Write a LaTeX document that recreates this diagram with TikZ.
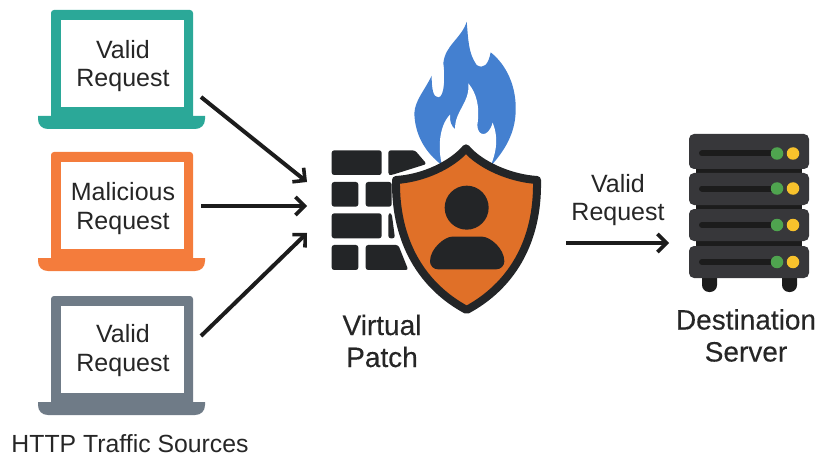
\documentclass[tikz,border=0pt]{standalone}
\usepackage{fontspec}
\setmainfont{Liberation Sans}
\newfontfamily\medfont[FakeBold=0.25]{Liberation Sans}
\usetikzlibrary{arrows.meta}
\definecolor{tealc}{HTML}{2BA898}
\definecolor{orangec}{HTML}{F47C3C}
\definecolor{grayc}{HTML}{6F7B87}
\definecolor{inkc}{HTML}{232527}
\definecolor{flamec}{HTML}{4480D0}
\definecolor{shieldc}{HTML}{E07028}
\definecolor{rackc}{HTML}{37373A}
\definecolor{slotc}{HTML}{1C1C1C}
\definecolor{greenc}{HTML}{4FA44F}
\definecolor{yellowc}{HTML}{F8C22C}
\definecolor{textc}{HTML}{262626}
\tikzset{
  lbl/.style={font=\fontsize{25}{28.5}\selectfont, text=textc, align=center, inner sep=0pt},
  blbl/.style={lbl, font=\medfont\fontsize{28}{32}\selectfont},
  flow/.style={draw=slotc, line width=4pt, -{Straight Barb[length=9pt,width=18pt,line width=3.6pt]}},
  brick/.style={fill=inkc, rounded corners=2.5pt},
  led/.style={circle, minimum size=12.5pt, inner sep=0pt},
}
\newcommand{\laptop}[2]{%
  \begin{scope}[yshift=-#1pt]
    \fill[#2, rounded corners=3pt] (51,10) rectangle (193,120);
    \fill[#2] (38,116) -- (205,116) -- (205,119) .. controls (205,125) and (201,129) .. (195,129) -- (48,129) .. controls (42,129) and (38,125) .. (38,119) -- cycle;
    \fill[white] (61,20) rectangle (184,107);
  \end{scope}}
\newcommand{\rackunit}[3]{%
  \fill[rackc, rounded corners=5pt] (689,#1) rectangle (809,#2);
  \draw[slotc, line width=6pt, line cap=round] (702,#3) -- (772,#3);
  \node[led, fill=greenc] at (777,#3) {};
  \node[led, fill=yellowc] at (793,#3) {};}
\begin{document}
\begin{tikzpicture}[x=1pt,y=-1pt]
\useasboundingbox (0,0) rectangle (821,457);
\laptop{0}{tealc}
\laptop{142}{orangec}
\laptop{286}{grayc}
\node[lbl] (l1) at (123,66) {Valid\\Request};
\node[lbl] (l2) at (123,208.5) {Malicious\\Request};
\node[lbl] (l3) at (123,350.5) {Valid\\Request};
\node[lbl, font=\fontsize{24.8}{26}\selectfont] (src) at (130,444) {HTTP Traffic Sources};
% wall
\begin{scope}[xshift=320pt,yshift=-10pt,scale=1/3]
  \fill[brick] (35,421) rectangle (185,495);
  \fill[brick] (205,421) -- (285,421) -- (320,462) -- (215,495) -- (205,495) -- cycle;
  \fill[brick] (35,516) rectangle (115,590);
  \fill[brick] (137,516) rectangle (215,590);
  \fill[brick] (35,610) rectangle (185,685);
  \fill[brick] (205,610) -- (215,610) -- (225,685) -- (205,685) -- cycle;
  \fill[brick] (35,705) rectangle (115,780);
  \fill[brick] (137,705) -- (235,705) -- (265,780) -- (137,780) -- cycle;
  % flame
  \fill[flamec] (440,35) .. controls (445,90) and (445,130) .. (470,165)
     .. controls (490,178) and (505,165) .. (512,127)
     .. controls (560,165) and (590,230) .. (587,305)
     .. controls (585,370) and (555,420) .. (515,465)
     -- (365,465) .. controls (320,430) and (285,380) .. (283,310)
     .. controls (285,270) and (315,240) .. (335,197)
     .. controls (335,240) and (340,262) .. (355,262)
     .. controls (375,262) and (375,190) .. (370,160)
     .. controls (375,105) and (425,85) .. (440,35) -- cycle;
  \fill[white] (445,220) .. controls (470,250) and (480,290) .. (472,345)
     .. controls (472,380) and (505,385) .. (518,338)
     .. controls (535,380) and (530,420) .. (515,460)
     -- (365,460) .. controls (355,420) and (355,350) .. (390,314)
     .. controls (388,335) and (395,350) .. (405,357)
     .. controls (405,300) and (450,280) .. (445,220) -- cycle;
  % shield
  \path[fill=shieldc, draw=inkc, line width=8pt, line join=round]
     (438,415) .. controls (480,465) and (570,505) .. (651,510)
     .. controls (655,700) and (570,830) .. (440,900)
     .. controls (310,830) and (225,700) .. (228,510)
     .. controls (310,505) and (395,465) .. (438,415) -- cycle;
  \fill[inkc] (440,593) circle (66);
  \fill[inkc, rounded corners=8pt] (330,778) .. controls (330,715) and (375,680) .. (420,680)
     -- (462,680) .. controls (510,680) and (553,715) .. (553,778) -- cycle;
\end{scope}
\node[blbl] (vp) at (382,341) {Virtual\\Patch};
\node[lbl] (vr) at (618,200) {Valid\\Request};
% server
\fill[slotc, rounded corners=7pt] (702,265) rectangle (717,292);
\fill[slotc, rounded corners=7pt] (782,265) rectangle (797,292);
\fill[slotc] (696,160) rectangle (802,260);
\rackunit{134}{169}{153.5}
\rackunit{173}{205}{188.5}
\rackunit{209}{241}{225}
\rackunit{246}{278}{262}
\node[blbl] (ds) at (746,335.5) {Destination\\Server};
% connectors
\coordinate (a1s) at (201,97); \coordinate (a1e) at (307,182);
\coordinate (a2s) at (201,206); \coordinate (a2e) at (307,206);
\coordinate (a3s) at (201,336); \coordinate (a3e) at (307,233);
\coordinate (a4s) at (566,243); \coordinate (a4e) at (669,243);
\draw[flow] (a1s) -- (a1e);
\draw[flow] (a2s) -- (a2e);
\draw[flow] (a3s) -- (a3e);
\draw[flow] (a4s) -- (a4e);
\end{tikzpicture}
\end{document}
